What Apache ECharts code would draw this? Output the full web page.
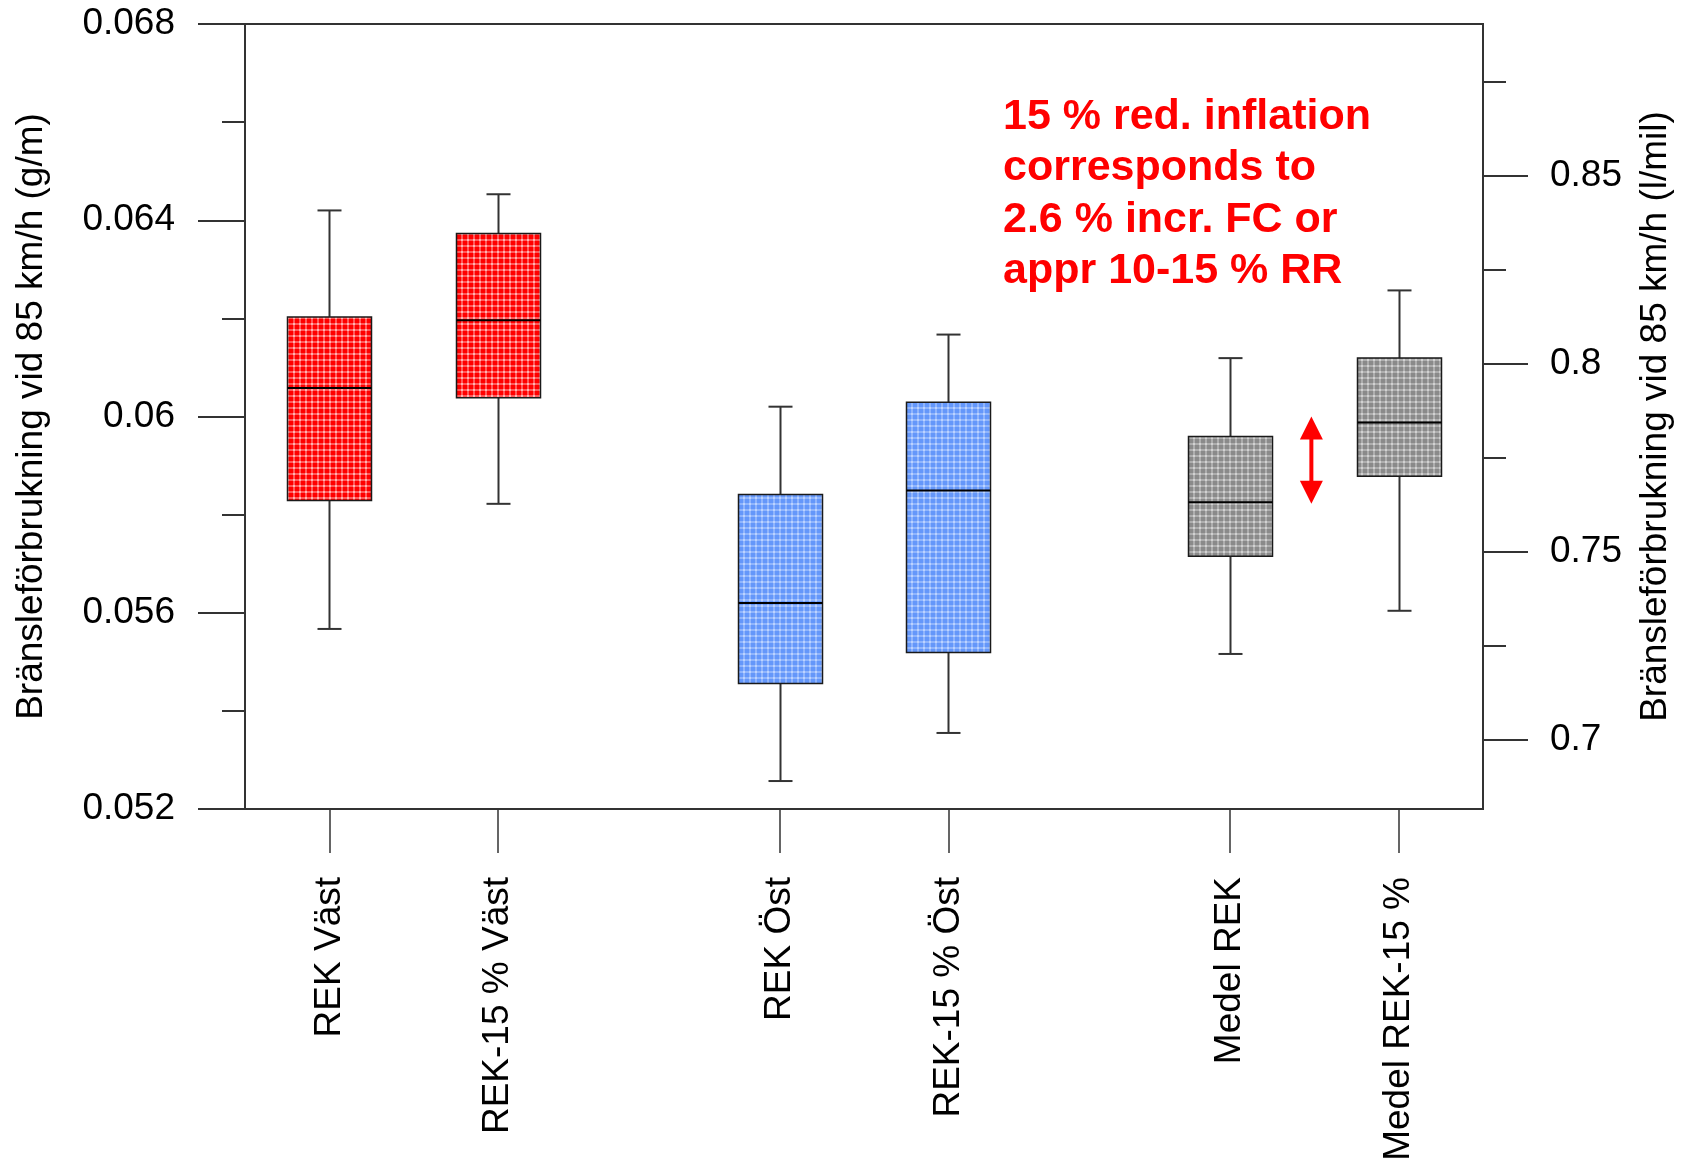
<!DOCTYPE html>
<html>
<head>
<meta charset="utf-8">
<script src="https://cdn.jsdelivr.net/npm/echarts@6/dist/echarts.min.js"></script>
<style>
  html, body { margin: 0; padding: 0; background: #ffffff; }
  #chart { width: 1688px; height: 1166px; }
</style>
</head>
<body>
<div id="chart"></div>
<script>
// ---- data ----
const categories = ['REK Väst', 'REK-15 % Väst', 'REK Öst', 'REK-15 % Öst', 'Medel REK', 'Medel REK-15 %'];
const whiskerMin = [0.05567, 0.05822, 0.05257, 0.05355, 0.05516, 0.05604];
const quartile1  = [0.05829, 0.06038, 0.05456, 0.05519, 0.05715, 0.05878];
const medians    = [0.06058, 0.06196, 0.05620, 0.05849, 0.05825, 0.05988];
const quartile3  = [0.06203, 0.06373, 0.05841, 0.06029, 0.05959, 0.06119];
const whiskerMax = [0.06420, 0.06453, 0.06020, 0.06167, 0.06119, 0.06257];
const boxGroup   = ['red', 'red', 'blue', 'blue', 'gray', 'gray'];
const arrowRange = [0.05822, 0.06000];           // red double arrow (g/m)
const leftTicks  = [0.052, 0.056, 0.060, 0.064, 0.068];
const leftMinor  = [0.054, 0.058, 0.062, 0.066];
const rightTicks = [0.70, 0.75, 0.80, 0.85];
const rightMinor = [0.725, 0.775, 0.825, 0.875];
const noteLines  = ['15 % red. inflation', 'corresponds to', '2.6 % incr. FC or', 'appr 10-15 % RR'];

// ---- layout (x slots of the grouped boxes, on a value axis) ----
const slots = [3, 6, 11, 14, 19, 22];
const arrowSlot = 20.45;

const FONT = '"Liberation Sans", Arial, Helvetica, sans-serif';

function makePattern(dark, light) {
  const c = document.createElement('canvas');
  c.width = 6; c.height = 6;
  const g = c.getContext('2d');
  g.fillStyle = light; g.fillRect(0, 0, 6, 6);
  g.fillStyle = dark;
  g.fillRect(1, 0.5, 4, 5);
  g.fillRect(0.5, 1, 5, 4);
  return { image: c, repeat: 'repeat' };
}
const patterns = {
  red:  makePattern('#ff0000', '#ffb4b4'),
  blue: makePattern('#6497fa', '#bcd3ff'),
  gray: makePattern('#8a8a8a', '#d2d2d2')
};

const boxData = categories.map((c, i) => [slots[i], whiskerMin[i], quartile1[i], medians[i], quartile3[i], whiskerMax[i]]);

const chart = echarts.init(document.getElementById('chart'), null, { renderer: 'canvas' });

const axisLineStyle = { color: '#333', width: 2 };
const labelStyle = { fontFamily: FONT, fontSize: 37, color: '#000' };

chart.setOption({
  animation: false,
  backgroundColor: '#fff',
  grid: {
    left: 245, right: 205, top: 24, bottom: 357,
    containLabel: false, outerBoundsMode: 'none',
    show: true, borderColor: '#333', borderWidth: 2, backgroundColor: 'transparent'
  },
  xAxis: {
    type: 'value', min: 1.5, max: 23.5,
    splitLine: { show: false },
    axisLine: { show: true, lineStyle: axisLineStyle },
    axisTick: { show: true, customValues: slots, length: 44, lineStyle: { color: '#333', width: 1.5 } },
    axisLabel: {
      show: true, customValues: slots, rotate: 90, margin: 68,
      fontFamily: FONT, fontSize: 37, color: '#000',
      formatter: v => { const k = slots.indexOf(Math.round(v * 100) / 100); return k >= 0 ? categories[k] : ''; }
    }
  },
  yAxis: [
    {
      type: 'value', position: 'left', min: 0.052, max: 0.068, interval: 0.004,
      name: 'Bränsleförbrukning vid 85 km/h (g/m)', nameLocation: 'middle', nameRotate: 90, nameGap: 195,
      nameTextStyle: labelStyle,
      splitLine: { show: false },
      axisLine: { show: true, lineStyle: axisLineStyle },
      axisTick: { show: true, customValues: leftTicks, length: 47, lineStyle: { color: '#333', width: 2 } },
      axisLabel: { show: true, customValues: leftTicks, margin: 70, ...labelStyle, formatter: v => String(+v.toFixed(3)) }
    },
    {
      type: 'value', position: 'left', min: 0.052, max: 0.068,
      splitLine: { show: false },
      axisLine: { show: false },
      axisTick: { show: true, customValues: leftMinor, length: 23, lineStyle: { color: '#333', width: 2 } },
      axisLabel: { show: false }
    },
    {
      type: 'value', position: 'right', min: 0.6817, max: 0.8903,
      name: 'Bränsleförbrukning vid 85 km/h (l/mil)', nameLocation: 'middle', nameRotate: 90, nameGap: 154,
      nameTextStyle: labelStyle,
      splitLine: { show: false },
      axisLine: { show: true, lineStyle: axisLineStyle },
      axisTick: { show: true, customValues: rightTicks, length: 45, lineStyle: { color: '#333', width: 2 } },
      axisLabel: { show: true, customValues: rightTicks, margin: 67, ...labelStyle, formatter: v => String(+v.toFixed(3)) }
    },
    {
      type: 'value', position: 'right', min: 0.6817, max: 0.8903,
      splitLine: { show: false },
      axisLine: { show: false },
      axisTick: { show: true, customValues: rightMinor, length: 23, lineStyle: { color: '#333', width: 2 } },
      axisLabel: { show: false }
    }
  ],
  series: [
    {
      type: 'custom',
      coordinateSystem: 'cartesian2d', xAxisIndex: 0, yAxisIndex: 0,
      encode: { x: 0, y: [1, 2, 3, 4, 5] },
      data: boxData,
      renderItem: function (params, api) {
        const x = api.value(0);
        const lo = api.coord([x, api.value(1)]);
        const q1 = api.coord([x, api.value(2)]);
        const md = api.coord([x, api.value(3)]);
        const q3 = api.coord([x, api.value(4)]);
        const hi = api.coord([x, api.value(5)]);
        const cx = Math.round(lo[0]) + 0.5;
        const hw = 42, cw = 12;
        const ws = { stroke: '#333', lineWidth: 2 };
        return {
          type: 'group',
          children: [
            { type: 'line', shape: { x1: cx, y1: hi[1], x2: cx, y2: q3[1] }, style: ws },
            { type: 'line', shape: { x1: cx, y1: q1[1], x2: cx, y2: lo[1] }, style: ws },
            { type: 'line', shape: { x1: cx - cw, y1: hi[1], x2: cx + cw, y2: hi[1] }, style: ws },
            { type: 'line', shape: { x1: cx - cw, y1: lo[1], x2: cx + cw, y2: lo[1] }, style: ws },
            { type: 'rect', shape: { x: cx - hw, y: q3[1], width: 2 * hw, height: q1[1] - q3[1] },
              style: { fill: patterns[boxGroup[params.dataIndex]], stroke: '#1a1a1a', lineWidth: 1.5 } },
            { type: 'line', shape: { x1: cx - hw, y1: md[1], x2: cx + hw, y2: md[1] }, style: { stroke: '#000', lineWidth: 2 } }
          ]
        };
      }
    },
    {
      type: 'custom',
      coordinateSystem: 'cartesian2d', xAxisIndex: 0, yAxisIndex: 0,
      encode: { x: 0, y: [1, 2] },
      data: [[arrowSlot, arrowRange[0], arrowRange[1]]],
      renderItem: function (params, api) {
        const x = api.value(0);
        const b = api.coord([x, api.value(1)]);
        const t = api.coord([x, api.value(2)]);
        const cx = b[0];
        const hh = 23, hw = 11.5;
        return {
          type: 'group',
          children: [
            { type: 'rect', shape: { x: cx - 2, y: t[1] + hh - 1, width: 4, height: (b[1] - t[1]) - 2 * hh + 2 }, style: { fill: '#ff0000' } },
            { type: 'polygon', shape: { points: [[cx, t[1]], [cx + hw, t[1] + hh], [cx - hw, t[1] + hh]] }, style: { fill: '#ff0000' } },
            { type: 'polygon', shape: { points: [[cx, b[1]], [cx + hw, b[1] - hh], [cx - hw, b[1] - hh]] }, style: { fill: '#ff0000' } }
          ]
        };
      }
    }
  ],
  graphic: [
    {
      type: 'text', left: 1003, top: 91,
      style: {
        text: noteLines.join('\n'),
        fill: '#ff0000',
        font: 'bold 43px ' + FONT,
        lineHeight: 51.5
      }
    }
  ]
});
</script>
</body>
</html>
